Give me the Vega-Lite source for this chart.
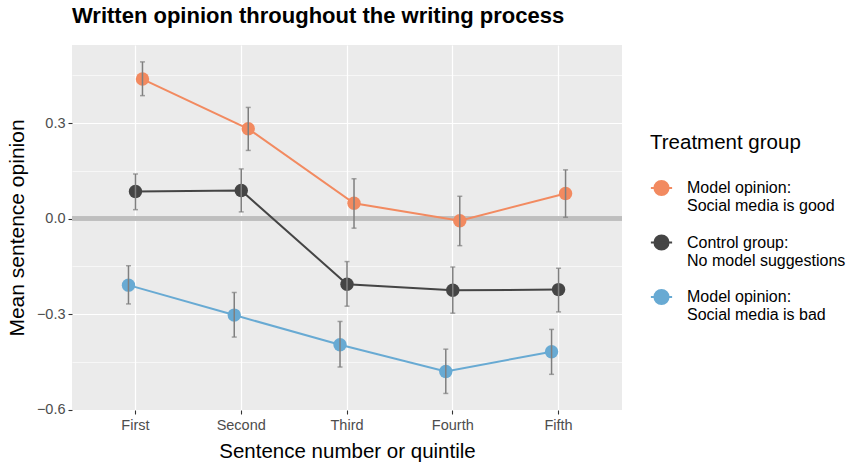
{
  "$schema": "https://vega.github.io/schema/vega-lite/v6.json",
  "width": 550,
  "height": 365,
  "autosize": {"type": "none"},
  "padding": {"left": 72, "top": 45, "right": 224, "bottom": 57},
  "background": "white",
  "title": {
    "text": "Written opinion throughout the writing process",
    "anchor": "start",
    "frame": "group",
    "fontSize": 22,
    "fontWeight": "bold",
    "font": "Liberation Sans",
    "color": "#000000",
    "offset": 17
  },
  "config": {
    "font": "Liberation Sans",
    "view": {"fill": "#EBEBEB", "stroke": null}
  },
  "data": {
    "values": [
      {"x": "First", "group": "good", "mean": 0.438, "lo": 0.386, "hi": 0.492},
      {"x": "Second", "group": "good", "mean": 0.282, "lo": 0.214, "hi": 0.349},
      {"x": "Third", "group": "good", "mean": 0.048, "lo": -0.030, "hi": 0.125},
      {"x": "Fourth", "group": "good", "mean": -0.007, "lo": -0.085, "hi": 0.070},
      {"x": "Fifth", "group": "good", "mean": 0.079, "lo": 0.004, "hi": 0.153},
      {"x": "First", "group": "control", "mean": 0.085, "lo": 0.028, "hi": 0.140},
      {"x": "Second", "group": "control", "mean": 0.088, "lo": 0.021, "hi": 0.156},
      {"x": "Third", "group": "control", "mean": -0.206, "lo": -0.275, "hi": -0.135},
      {"x": "Fourth", "group": "control", "mean": -0.225, "lo": -0.297, "hi": -0.152},
      {"x": "Fifth", "group": "control", "mean": -0.223, "lo": -0.293, "hi": -0.156},
      {"x": "First", "group": "bad", "mean": -0.209, "lo": -0.268, "hi": -0.148},
      {"x": "Second", "group": "bad", "mean": -0.303, "lo": -0.372, "hi": -0.232},
      {"x": "Third", "group": "bad", "mean": -0.396, "lo": -0.466, "hi": -0.323},
      {"x": "Fourth", "group": "bad", "mean": -0.480, "lo": -0.549, "hi": -0.410},
      {"x": "Fifth", "group": "bad", "mean": -0.418, "lo": -0.489, "hi": -0.348}
    ]
  },
  "encoding": {
    "x": {
      "field": "x",
      "type": "nominal",
      "sort": ["First", "Second", "Third", "Fourth", "Fifth"],
      "scale": {"type": "band", "paddingInner": 0, "paddingOuter": 0.1},
      "axis": {
        "title": "Sentence number or quintile",
        "titleFontSize": 20.5,
        "titleFontWeight": "normal",
        "titleColor": "#000000",
        "titlePadding": 10,
        "labelAngle": 0,
        "labelFontSize": 14.5,
        "labelColor": "#4D4D4D",
        "labelPadding": 4,
        "tickSize": 4,
        "tickColor": "#333333",
        "tickWidth": 1.1,
        "domain": false,
        "grid": true,
        "gridColor": "#FFFFFF",
        "gridWidth": 1.2
      }
    },
    "xOffset": {
      "field": "group",
      "type": "nominal",
      "sort": ["bad", "control", "good"],
      "scale": {"type": "point", "padding": 0, "range": [45.9, 59.9]}
    },
    "y": {
      "field": "mean",
      "type": "quantitative",
      "scale": {"domain": [-0.601, 0.545], "nice": false, "zero": false},
      "axis": {
        "title": "Mean sentence opinion",
        "titleFontSize": 21,
        "titleFontWeight": "normal",
        "titleColor": "#000000",
        "titlePadding": 9,
        "values": [-0.6, -0.45, -0.3, -0.15, 0, 0.15, 0.3, 0.45],
        "format": ".1f",
        "labelExpr": "abs(round(datum.value*100)) % 30 == 0 ? datum.label : ''",
        "labelFontSize": 14.5,
        "labelColor": "#4D4D4D",
        "labelPadding": 3,
        "tickSize": 4,
        "tickWidth": 1.1,
        "tickColor": {"condition": {"test": "abs(round(datum.value*100)) % 30 != 0", "value": "transparent"}, "value": "#333333"},
        "domain": false,
        "grid": true,
        "gridColor": "#FFFFFF",
        "gridWidth": {"condition": {"test": "abs(round(datum.value*100)) % 30 != 0", "value": 0.6}, "value": 1.2}
      }
    },
    "color": {
      "field": "group",
      "type": "nominal",
      "scale": {"domain": ["good", "control", "bad"], "range": ["#F28A60", "#454545", "#68AAD3"]},
      "legend": {
        "title": "Treatment group",
        "orient": "none",
        "legendX": 578,
        "legendY": 88,
        "titleFontSize": 20.5,
        "titleFontWeight": "normal",
        "titleColor": "#000000",
        "titlePadding": 26,
        "labelFontSize": 16,
        "labelColor": "#000000",
        "labelLineHeight": 17,
        "labelOffset": 17,
        "symbolOffset": 3,
        "labelExpr": "datum.value == 'good' ? ['Model opinion:', 'Social media is good'] : datum.value == 'control' ? ['Control group:', 'No model suggestions'] : ['Model opinion:', 'Social media is bad']",
        "symbolType": "M-1.5,0L1.5,0M-1,0A1,1,0,1,0,1,0A1,1,0,1,0,-1,0Z",
        "symbolSize": 200,
        "symbolStrokeWidth": 2,
        "rowPadding": 16.5,
        "encode": {
          "symbols": {"update": {"fill": {"scale": "color", "field": "value"}, "stroke": {"scale": "color", "field": "value"}, "opacity": {"value": 1}}}
        }
      }
    }
  },
  "layer": [
    {
      "mark": {"type": "rule", "color": "#BEBEBE", "strokeWidth": 3.5},
      "encoding": {"y": {"datum": 0}, "x": null, "xOffset": null, "color": null}
    },
    {
      "mark": {"type": "line", "strokeWidth": 2}
    },
    {
      "mark": {"type": "point", "filled": true, "size": 180, "opacity": 1}
    },
    {
      "mark": {"type": "rule", "color": "#7F7F7F", "strokeWidth": 1.5},
      "encoding": {"y": {"field": "lo", "type": "quantitative"}, "y2": {"field": "hi"}, "color": null}
    },
    {
      "mark": {"type": "tick", "color": "#7F7F7F", "thickness": 1.5, "size": 5, "orient": "horizontal"},
      "encoding": {"y": {"field": "lo", "type": "quantitative"}, "color": null}
    },
    {
      "mark": {"type": "tick", "color": "#7F7F7F", "thickness": 1.5, "size": 5, "orient": "horizontal"},
      "encoding": {"y": {"field": "hi", "type": "quantitative"}, "color": null}
    }
  ]
}
